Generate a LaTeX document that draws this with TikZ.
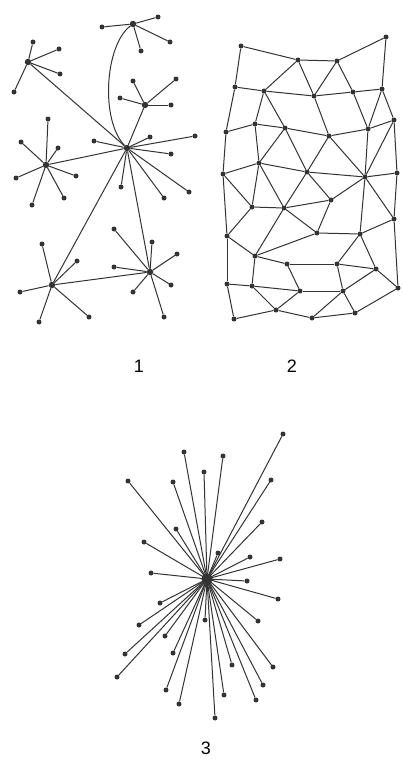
\documentclass[tikz,border=0pt]{standalone}
\usepackage{fontspec}
\setmainfont{Liberation Sans}
\definecolor{ink}{gray}{0.2}
\begin{document}
\begin{tikzpicture}[x=1pt,y=-1pt,
  dot/.style={circle,fill=ink,inner sep=0pt,minimum size=5pt},
  hubdot/.style={circle,fill=ink,inner sep=0pt,minimum size=6.5pt},
  bighub/.style={circle,fill=ink,inner sep=0pt,minimum size=11pt},
  edge/.style={draw=ink,line width=1pt},
  lbl/.style={font=\fontsize{18}{21}\selectfont,text=black,inner sep=0pt}]
\useasboundingbox (0,0) rectangle (403,760);
% ---------------- graph 1
\foreach \n/\x/\y in {O/127/148,A/28/62,T/133/24,M/145/105,B/46/165,C/52/285,D/150/272}
  \node[hubdot] (\n) at (\x,\y) {};
\foreach \n/\x/\y in {a1/33/42,a2/59/49,a3/60/74,a4/14/92,
  t1/102/27,t2/158/17,t3/170/42,t4/141/51,
  m1/133/81,m2/176/79,m3/120/98,m4/171/105,
  b1/48/119,b2/21/142,b3/58/148,b4/16/178,b5/76/176,b6/32/205,b7/64/198,
  c1/42/244,c2/77/261,c3/20/292,c4/39/322,c5/89/317,
  d1/114/229,d2/152/242,d3/177/254,d4/114/267,d5/171/285,d6/133/292,d7/164/317,
  o1/94/141,o2/150/137,o3/195/136,o4/171/154,o5/121/187,o6/164/198,o7/189/192}
  \node[dot] (\n) at (\x,\y) {};
\foreach \a/\b in {A/a1,A/a2,A/a3,A/a4,T/t1,T/t2,T/t3,T/t4,M/m1,M/m2,M/m3,M/m4,
  B/b1,B/b2,B/b3,B/b4,B/b5,B/b6,B/b7,C/c1,C/c2,C/c3,C/c4,C/c5,
  D/d1,D/d2,D/d3,D/d4,D/d5,D/d6,D/d7,
  O/o1,O/o2,O/o3,O/o4,O/o5,O/o6,O/o7,O/A,O/M,O/B,O/C,O/D,C/D}
  \draw[edge] (\a) -- (\b);
\draw[edge] (T) .. controls (105,45) and (100,120) .. (O);
% ---------------- graph 2
\foreach \n/\x/\y in {p1/241/46,p2/298/60,p3/337/61,p4/386/37,
  p5/235/87,p6/264/91,p7/314/96,p8/353/92,p9/382/89,
  p10/226/132,p11/255/124,p12/285/128,p13/329/136,p14/368/129,p15/394/120,
  p16/223/174,p17/259/163,p18/307/172,p19/365/177,p20/397/173,
  p21/252/207,p22/284/208,p23/331/200,p24/394/219,
  p25/227/236,p26/255/256,p27/287/264,p28/317/233,p29/360/234,
  p30/337/264,p31/376/269,
  p32/227/284,p33/252/286,p34/300/291,p35/343/291,p36/398/288,
  p37/234/319,p38/276/310,p39/312/318,p40/355/313}
  \node[dot] (\n) at (\x,\y) {};
\foreach \a/\b in {p1/p2,p2/p3,p3/p4,
  p1/p5,p2/p6,p2/p7,p3/p7,p3/p8,p4/p9,
  p5/p6,p6/p7,p7/p8,p8/p9,
  p5/p10,p6/p11,p6/p12,p7/p13,p8/p14,p9/p14,p9/p15,
  p10/p11,p11/p12,p12/p13,p13/p14,p14/p15,
  p10/p16,p11/p17,p12/p17,p12/p18,p13/p18,p13/p19,p14/p19,p15/p19,p15/p20,
  p16/p17,p17/p18,p18/p19,p19/p20,
  p16/p21,p17/p21,p17/p22,p18/p22,p18/p23,p19/p23,p19/p29,p19/p24,p20/p24,
  p21/p22,p22/p23,
  p16/p25,p21/p25,p25/p26,p22/p26,p22/p28,p26/p28,p23/p28,p28/p29,p29/p24,
  p26/p27,p27/p30,p27/p34,p29/p30,p29/p31,p30/p31,p31/p36,p24/p36,
  p25/p32,p26/p33,p32/p33,p33/p34,p30/p35,p31/p35,p34/p35,
  p33/p38,p32/p37,p37/p38,p38/p34,p38/p39,p35/p40,p35/p39,p39/p40,p40/p36}
  \draw[edge] (\a) -- (\b);
% ---------------- graph 3
\node[bighub] (H) at (207,579) {};
\foreach \n/\x/\y in {q1/184/452,q2/204/472,q3/128/481,q4/173/482,q5/176/529,
  q6/144/542,q7/151/573,q8/283/434,q9/223/456,q10/271/480,q11/262/522,
  q12/250/557,q13/280/559,q14/218/553,q15/160/603,q16/139/625,q17/165/636,
  q18/125/654,q19/173/653,q20/117/677,q21/166/690,q22/179/704,q23/247/581,
  q24/278/599,q25/258/621,q26/205/620,q27/232/665,q28/273/667,q29/263/685,
  q30/224/695,q31/256/700,q32/215/718}
  \node[dot] (\n) at (\x,\y) {};
\foreach \i in {1,...,32}
  \draw[edge] (H.center) -- (q\i);
\node[bighub] at (H) {};
% ---------------- labels
\node[lbl] (L1) at (139,366) {1};
\node[lbl] (L2) at (292,366) {2};
\node[lbl] (L3) at (206,748) {3};
\end{tikzpicture}
\end{document}
